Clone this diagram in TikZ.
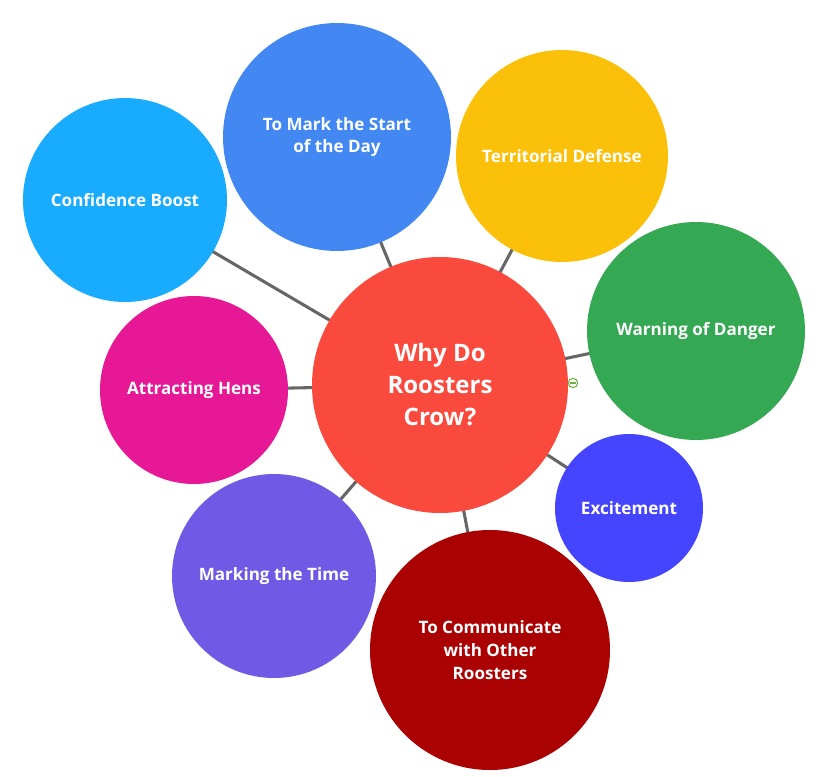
\documentclass[tikz,border=0pt]{standalone}
\usepackage{fontspec}
\setmainfont{Open Sans}
\begin{document}
\begin{tikzpicture}[x=0.75pt,y=-0.75pt,
  bubble/.style={circle,inner sep=0pt,text=white,font=\bfseries\fontsize{12.8}{17}\selectfont,align=center},
  link/.style={draw=black!60,line width=2.3pt}]
\definecolor{cCenter}{HTML}{FA4A3E}
\definecolor{cConf}{HTML}{19ABFE}
\definecolor{cMark}{HTML}{4388F2}
\definecolor{cTerr}{HTML}{FBC00A}
\definecolor{cWarn}{HTML}{35A853}
\definecolor{cHens}{HTML}{E61896}
\definecolor{cExc}{HTML}{4545FF}
\definecolor{cTime}{HTML}{7059E4}
\definecolor{cComm}{HTML}{AA0202}
\definecolor{cBtn}{HTML}{6DB33F}
\useasboundingbox (0,0) rectangle (829,776);
% coordinates of centres
\coordinate (pC) at (440,385);
\coordinate (p1) at (125,200);
\coordinate (p2) at (337,137);
\coordinate (p3) at (562,156);
\coordinate (p4) at (696,331);
\coordinate (p5) at (194,390);
\coordinate (p6) at (629,508);
\coordinate (p7) at (274,576);
\coordinate (p8) at (490,650);
\foreach \p in {p1,p2,p3,p4,p5,p6,p7,p8}{\draw[link] (pC) -- (\p);}
\node[bubble,fill=cConf,minimum size=204*0.75pt] (n1) at (p1) {Confidence Boost};
\node[bubble,fill=cMark,minimum size=228*0.75pt] (n2) at (p2) {To Mark the Start\\of the Day};
\node[bubble,fill=cTerr,minimum size=212*0.75pt] (n3) at (p3) {Territorial Defense};
\node[bubble,fill=cWarn,minimum size=218*0.75pt] (n4) at (p4) {Warning of Danger};
\node[bubble,fill=cHens,minimum size=188*0.75pt] (n5) at (p5) {Attracting Hens};
\node[bubble,fill=cExc,minimum size=148*0.75pt] (n6) at (p6) {Excitement};
\node[bubble,fill=cTime,minimum size=204*0.75pt] (n7) at (p7) {Marking the Time};
\node[bubble,fill=cComm,minimum size=240*0.75pt] (n8) at (p8) {To Communicate\\with Other\\Roosters};
\node[bubble,fill=cCenter,minimum size=256*0.75pt,font=\bfseries\fontsize{18}{24}\selectfont] (nc) at (pC) {Why Do\\Roosters\\Crow?};
\node[circle,draw=cBtn,fill=white,line width=0.8pt,minimum size=7pt,inner sep=0pt] (btn) at (573,383) {};
\draw[cBtn,line width=0.9pt] ([xshift=-2pt]btn.center) -- ([xshift=2pt]btn.center);
\end{tikzpicture}
\end{document}
